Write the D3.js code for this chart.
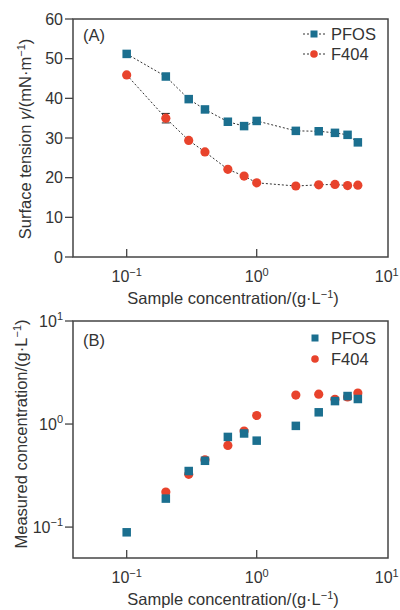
<!DOCTYPE html>
<html>
<head>
<meta charset="utf-8">
<script src="https://cdn.jsdelivr.net/npm/d3@7"></script>
<style>
  body { margin: 0; background: #fff; }
  text { font-family: "Liberation Sans", Arial, sans-serif; fill: #333; }
</style>
</head>
<body>
<div id="chart"></div>
<script>
const width = 400;
const height = 610;

// sample concentrations (g/L)
const conc = [0.1, 0.2, 0.3, 0.4, 0.6, 0.8, 1.0, 2, 3, 4, 5, 6];
// panel A: surface tension (mN/m)
const pfosTension = [51.2, 45.5, 39.8, 37.2, 34.1, 33.0, 34.3, 31.8, 31.7, 31.3, 30.8, 28.9];
const f404Tension = [45.9, 35.0, 29.4, 26.5, 22.1, 20.4, 18.7, 17.9, 18.2, 18.3, 18.0, 18.1];
const f404TensionErr = [0, 1.2, 0, 0, 0, 0, 0, 0, 0, 0, 0, 0];
// panel B: measured concentration (g/L)
const pfosMeasured = [0.089, 0.189, 0.35, 0.44, 0.75, 0.81, 0.69, 0.96, 1.30, 1.67, 1.87, 1.75];
const f404Conc = [0.2, 0.3, 0.4, 0.6, 0.8, 1.0, 2, 3, 4, 5, 6];
const f404Measured = [0.219, 0.325, 0.45, 0.62, 0.855, 1.21, 1.91, 1.95, 1.74, 1.83, 2.0];

const xTicks = [0.1, 1, 10];
const xTickExp = ["−1", "0", "1"];
const yTicksA = [0, 10, 20, 30, 40, 50, 60];
const yTicksB = [0.1, 1, 10];
const yTickExpB = ["−1", "0", "1"];

const blue = "#1b6f8f";
const red = "#e8432c";
const frame = "#444";
const fs = 16;      // tick labels
const fsT = 16.5;   // axis titles / legend

const svg = d3.select("#chart").append("svg")
  .attr("width", width)
  .attr("height", height);

const left = 73, right = 388;

const x = d3.scaleLog()
  .domain([Math.pow(10, -1.413), Math.pow(10, 1.01)])
  .range([left, right]);

// draw frame + ticks + labels for one panel
function drawPanel(top, bottom, y, yTicks, yLabel, yTitleX, yTitleY, yFmt) {
  const g = svg.append("g");
  g.append("rect")
    .attr("x", left).attr("y", top)
    .attr("width", right - left).attr("height", bottom - top)
    .attr("fill", "none").attr("stroke", frame).attr("stroke-width", 1.5);

  // x ticks, inward
  g.selectAll(".xt").data(xTicks.slice(0, 2)).enter().append("line")
    .attr("x1", d => x(d)).attr("x2", d => x(d))
    .attr("y1", bottom).attr("y2", bottom - 8)
    .attr("stroke", frame).attr("stroke-width", 1.3);

  const xl = g.selectAll(".xl").data(xTicks).enter().append("text")
    .attr("x", d => x(d))
    .attr("y", bottom + 25)
    .attr("text-anchor", "middle")
    .attr("font-size", fs);
  xl.append("tspan").text("10");
  xl.append("tspan").attr("dy", -6.5).attr("font-size", 11).text((d, i) => xTickExp[i]);

  // y ticks, outward
  g.selectAll(".yt").data(yTicks).enter().append("line")
    .attr("x1", left - 8).attr("x2", left)
    .attr("y1", d => y(d)).attr("y2", d => y(d))
    .attr("stroke", frame).attr("stroke-width", 1.3);

  const yl = g.selectAll(".yl").data(yTicks).enter().append("text")
    .attr("x", left - 10)
    .attr("y", d => y(d) + 5.5)
    .attr("text-anchor", "end")
    .attr("font-size", fs);
  yFmt(yl);

  g.append("text")
    .attr("x", 233)
    .attr("y", bottom + 47)
    .attr("text-anchor", "middle")
    .attr("font-size", fsT)
    .html("Sample concentration/(g·L<tspan dy='-6.5' font-size='11'>−1</tspan><tspan dy='6.5'>)</tspan>");

  g.append("text")
    .attr("transform", "translate(" + yTitleX + "," + yTitleY + ") rotate(-90)")
    .attr("text-anchor", "middle")
    .attr("font-size", fsT)
    .html(yLabel);
  return g;
}

// ---- Panel A ----
const topA = 19, bottomA = 257;
const yA = d3.scaleLinear().domain([0, 60]).range([bottomA, topA]);
drawPanel(topA, bottomA, yA, yTicksA,
  "Surface tension <tspan font-style='italic'>γ</tspan>/(mN·m<tspan dy='-6.5' font-size='11'>−1</tspan><tspan dy='6.5'>)</tspan>",
  31, 139, sel => sel.text(d => d));

svg.append("text").attr("x", 83).attr("y", 41).attr("font-size", fsT).text("(A)");

const line = d3.line().x(d => x(d[0])).y(d => yA(d[1]));
const pfosA = conc.map((c, i) => [c, pfosTension[i]]);
const f404A = conc.map((c, i) => [c, f404Tension[i]]);

[pfosA, f404A].forEach(s => {
  svg.append("path").datum(s)
    .attr("d", line)
    .attr("fill", "none")
    .attr("stroke", "#333")
    .attr("stroke-width", 1)
    .attr("stroke-dasharray", "2,2");
});

// error bars
conc.forEach((c, i) => {
  const e = f404TensionErr[i];
  if (!e) return;
  const cx = x(c);
  svg.append("line").attr("x1", cx).attr("x2", cx)
    .attr("y1", yA(f404Tension[i] - e)).attr("y2", yA(f404Tension[i] + e))
    .attr("stroke", "#222").attr("stroke-width", 1);
  [f404Tension[i] - e, f404Tension[i] + e].forEach(v => {
    svg.append("line").attr("x1", cx - 4).attr("x2", cx + 4)
      .attr("y1", yA(v)).attr("y2", yA(v))
      .attr("stroke", "#222").attr("stroke-width", 1);
  });
});

function squares(data, xs, ys, size) {
  svg.append("g").selectAll("rect").data(data).enter().append("rect")
    .attr("x", d => xs(d[0]) - size / 2)
    .attr("y", d => ys(d[1]) - size / 2)
    .attr("width", size).attr("height", size)
    .attr("fill", blue);
}
function circles(data, xs, ys, r) {
  svg.append("g").selectAll("circle").data(data).enter().append("circle")
    .attr("cx", d => xs(d[0]))
    .attr("cy", d => ys(d[1]))
    .attr("r", r)
    .attr("fill", red);
}

squares(pfosA, x, yA, 8.5);
circles(f404A, x, yA, 4.6);

// legend A
const legA = svg.append("g");
[["PFOS", 34], ["F404", 54]].forEach((d, i) => {
  legA.append("line").attr("x1", 303).attr("x2", 325)
    .attr("y1", d[1]).attr("y2", d[1])
    .attr("stroke", "#333").attr("stroke-width", 1).attr("stroke-dasharray", "2,2");
  if (i == 0) {
    legA.append("rect").attr("x", 310.5).attr("y", d[1] - 3.5).attr("width", 7).attr("height", 7).attr("fill", blue);
  } else {
    legA.append("circle").attr("cx", 314).attr("cy", d[1]).attr("r", 3.8).attr("fill", red);
  }
  legA.append("text").attr("x", 331).attr("y", d[1] + 6).attr("font-size", fsT).text(d[0]);
});

// ---- Panel B ----
const topB = 321, bottomB = 558;
const yB = d3.scaleLog().domain([Math.pow(10, -1.3), 10]).range([bottomB, topB]);
drawPanel(topB, bottomB, yB, yTicksB,
  "Measured concentration/(g·L<tspan dy='-6.5' font-size='11'>−1</tspan><tspan dy='6.5'>)</tspan>",
  27, 434, sel => {
    sel.append("tspan").text("10");
    sel.append("tspan").attr("dy", -6.5).attr("font-size", 11).text((d, i) => yTickExpB[i]);
  });

svg.append("text").attr("x", 83).attr("y", 346).attr("font-size", fsT).text("(B)");

const f404B = f404Conc.map((c, i) => [c, f404Measured[i]]);
const pfosB = conc.map((c, i) => [c, pfosMeasured[i]]);
circles(f404B, x, yB, 4.6);
squares(pfosB, x, yB, 8.5);

const legB = svg.append("g");
legB.append("rect").attr("x", 311.5).attr("y", 338 - 3.5).attr("width", 7).attr("height", 7).attr("fill", blue);
legB.append("text").attr("x", 331).attr("y", 344).attr("font-size", fsT).text("PFOS");
legB.append("circle").attr("cx", 315).attr("cy", 359).attr("r", 3.8).attr("fill", red);
legB.append("text").attr("x", 331).attr("y", 365).attr("font-size", fsT).text("F404");
</script>
</body>
</html>
